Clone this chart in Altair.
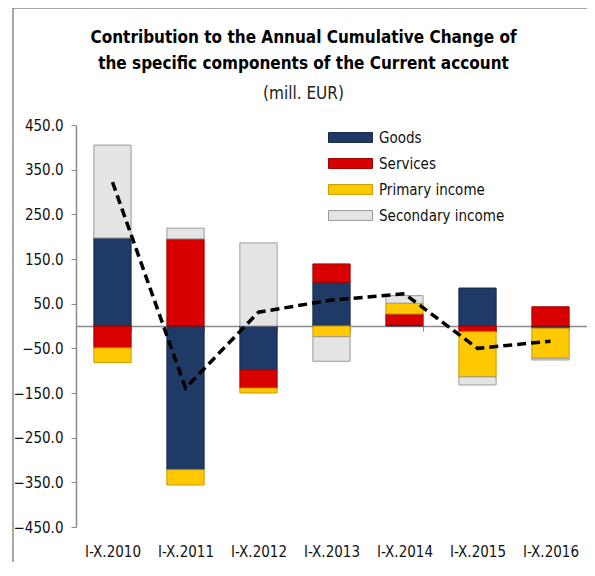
import altair as alt
import pandas as pd

periods = ["I-X.2010", "I-X.2011", "I-X.2012", "I-X.2013", "I-X.2014", "I-X.2015", "I-X.2016"]
series = ["Goods", "Services", "Primary income", "Secondary income"]
goods = [197, -322, -98, 98, 2, 85, -5]
services = [-49, 195, -41, 41, 25, -13, 43]
primary = [-33, -34, -11, -24, 24, -101, -67]
secondary = [208, 24, 186, -55, 17, -18, -4]
net = [322, -139, 31, 58, 72, -50, -34]

colors = ["#1F3A66", "#D90000", "#FFC800", "#E4E4E4"]
strokes = ["#16294A", "#A00000", "#C89B00", "#9A9A9A"]

rows = []
for i, p in enumerate(periods):
    for k, (s, vals) in enumerate(zip(series, [goods, services, primary, secondary])):
        rows.append({"period": p, "series": s, "value": vals[i], "order": k})
df = pd.DataFrame(rows)
net_df = pd.DataFrame({"period": periods, "net": net})

FONT = "DejaVu Sans Condensed"

xenc = alt.X("period:N", sort=periods, title=None,
             scale=alt.Scale(paddingInner=0.49, paddingOuter=0.245),
             axis=alt.Axis(orient="bottom", offset=-201, tickBand="extent", tickSize=5,
                           labelPadding=213, labelAngle=0, domainColor="#8a8a8a",
                           tickColor="#8a8a8a", labelFont=FONT, labelFontSize=15,
                           labelColor="#111", grid=False))
yscale = alt.Scale(domain=[-450, 450], nice=False)

bars = alt.Chart(df).mark_bar(strokeWidth=1).encode(
    x=xenc,
    y=alt.Y("sum(value):Q", scale=yscale, title=None,
            axis=alt.Axis(values=[-450, -350, -250, -150, -50, 50, 150, 250, 350, 450],
                          format=".1f", tickSize=5, grid=False, domainColor="#8a8a8a",
                          tickColor="#8a8a8a", labelFont=FONT, labelFontSize=15,
                          labelColor="#111", labelPadding=8)),
    color=alt.Color("series:N", sort=series,
                    scale=alt.Scale(domain=series, range=colors),
                    legend=alt.Legend(title=None, orient="none", legendX=263, legendY=1,
                                      symbolType="M-2,-0.45H2V0.45H-2Z", symbolSize=484,
                                      symbolStrokeWidth=1, labelOffset=17, rowPadding=6,
                                      labelFont=FONT, labelFontSize=15, labelColor="#111",
                                      padding=0)),
    stroke=alt.Stroke("series:N", scale=alt.Scale(domain=series, range=strokes), legend=None),
    order=alt.Order("order:Q", sort="ascending"),
)

line = alt.Chart(net_df).mark_line(color="black", strokeWidth=3.5, strokeDash=[9, 5]).encode(
    x=alt.X("period:N", sort=periods),
    y=alt.Y("net:Q", scale=yscale),
)

frame_df = pd.DataFrame({"k": [0]})
frame = alt.Chart(frame_df).mark_rect(fill=None, fillOpacity=0, stroke="#8c8c8c",
                                      strokeWidth=1.5, clip=False).encode(
    x=alt.value(-63), x2=alt.value(560), y=alt.value(-117), y2=alt.value(480))

chart = alt.layer(bars, line, frame).properties(
    width=511, height=402,
    title=alt.Title(
        text=["Contribution  to the Annual Cumulative  Change of",
              "the specific components  of the Current account"],
        subtitle="(mill. EUR)",
        font=FONT, fontSize=17, fontWeight="bold", color="#000",
        subtitleFont=FONT, subtitleFontSize=17, subtitleColor="#222",
        lineHeight=26, subtitlePadding=13, anchor="middle", dx=-28, offset=-96),
    autosize=alt.AutoSizeParams(type="none"),
    padding={"left": 68, "top": 117, "right": 0, "bottom": 35},
).configure_view(stroke=None).configure_axis(domainWidth=1.5)

chart.save("out.html", embed_options={"renderer": "svg", "actions": False})
